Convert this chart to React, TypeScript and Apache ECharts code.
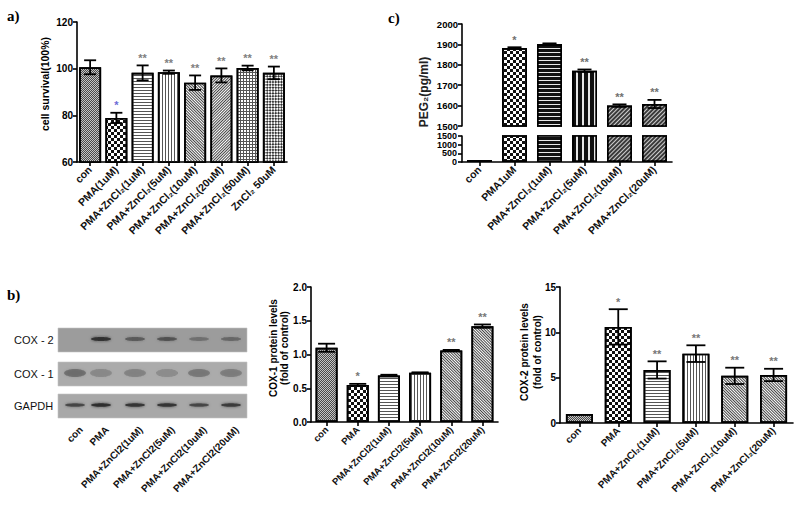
import React, { useEffect, useRef } from "react";
import * as echarts from "echarts";

// ---------- DATA ----------
const survivalCats = ["con", "PMA(1uM)", "PMA+ZnCl₂(1uM)", "PMA+ZnCl₂(5uM)", "PMA+ZnCl₂(10uM)", "PMA+ZnCl₂(20uM)", "PMA+ZnCl₂(50uM)", "ZnCl₂ 50uM"];
const survivalMean = [100.6, 78.9, 98.2, 98.5, 94.0, 97.1, 100.3, 98.2];
const survivalErr = [3.0, 2.2, 3.2, 0.7, 3.1, 3.0, 1.0, 2.7];
const survivalStars = ["", "*", "**", "**", "**", "**", "**", "**"];
const survivalTicks = [60, 80, 100, 120];

const pegCats = ["con", "PMA1uM", "PMA+ZnCl₂(1uM)", "PMA+ZnCl₂(5uM)", "PMA+ZnCl₂(10uM)", "PMA+ZnCl₂(20uM)"];
const pegMean = [110, 1882, 1902, 1771, 1600, 1608];
const pegErr = [0, 4, 3, 6, 6, 20];
const pegStars = ["", "*", "", "**", "**", "**"];
const pegUpperTicks = [1500, 1600, 1700, 1800, 1900, 2000];
const pegLowerTicks = [0, 500, 1000, 1500];

const cox1Cats = ["con", "PMA", "PMA+ZnCl2(1uM)", "PMA+ZnCl2(5uM)", "PMA+ZnCl2(10uM)", "PMA+ZnCl2(20uM)"];
const cox1Mean = [1.10, 0.55, 0.69, 0.73, 1.06, 1.42];
const cox1Err = [0.06, 0.015, 0.01, 0.006, 0.008, 0.025];
const cox1Stars = ["", "*", "", "", "**", "**"];
const cox1Ticks = [0, 0.5, 1.0, 1.5, 2.0];

const cox2Cats = ["con", "PMA", "PMA+ZnCl₂(1uM)", "PMA+ZnCl₂(5uM)", "PMA+ZnCl₂(10uM)", "PMA+ZnCl₂(20uM)"];
const cox2Mean = [1.0, 10.6, 5.85, 7.65, 5.2, 5.3];
const cox2Err = [0, 1.95, 0.95, 0.92, 0.9, 0.68];
const cox2Stars = ["", "*", "**", "**", "**", "**"];
const cox2Ticks = [0, 5, 10, 15];

const blotLanes = ["con", "PMA", "PMA+ZnCl2(1uM)", "PMA+ZnCl2(5uM)", "PMA+ZnCl2(10uM)", "PMA+ZnCl2(20uM)"];
const blotRows = ["COX - 2", "COX - 1", "GAPDH"];
const cox2Band = [0.0, 0.75, 0.45, 0.5, 0.3, 0.35];
const cox1Band = [0.35, 0.22, 0.25, 0.2, 0.3, 0.28];
const gapdhBand = [0.6, 0.8, 0.75, 0.75, 0.6, 0.7];

// ---------- STYLES ----------
const FONT = "Liberation Sans, Arial, sans-serif";
const SERIF = "Liberation Serif, Times New Roman, serif";

const pat = {
  dotsGray: { color: "#c4c4c4", decal: { symbol: "rect", symbolSize: 1, symbolKeepAspect: false, color: "#4a4a4a", dashArrayX: [[1, 1], [0, 1, 1, 0]], dashArrayY: [1, 0] } },
  checker: { color: "#ffffff", decal: { symbol: "rect", symbolSize: 1, symbolKeepAspect: false, color: "#111", dashArrayX: [[3, 3], [0, 3, 3, 0]], dashArrayY: [3, 0] } },
  hLines: { color: "#ffffff", decal: { symbol: "rect", symbolSize: 1, symbolKeepAspect: false, color: "#555", dashArrayX: [1, 0], dashArrayY: [1, 2] } },
  vLines: { color: "#ffffff", decal: { symbol: "rect", symbolSize: 1, symbolKeepAspect: false, color: "#555", dashArrayX: [1, 2], dashArrayY: [1, 0] } },
  diagA: { color: "#ffffff", decal: { symbol: "rect", symbolSize: 1, symbolKeepAspect: false, color: "#444", dashArrayX: [1, 0], dashArrayY: [1, 1], rotation: Math.PI / 4 } },
  diagB: { color: "#ffffff", decal: { symbol: "rect", symbolSize: 1, symbolKeepAspect: false, color: "#444", dashArrayX: [1, 0], dashArrayY: [1, 1], rotation: -Math.PI / 4 } },
  grid: { color: "#ffffff", decal: { symbol: "rect", symbolSize: 1, symbolKeepAspect: false, color: "#555", dashArrayX: [[3, 0], [1, 2]], dashArrayY: [1, 0, 2, 0] } },
  fineCross: { color: "#ffffff", decal: { symbol: "rect", symbolSize: 1, symbolKeepAspect: false, color: "#333", dashArrayX: [[2, 2], [0, 2, 2, 0]], dashArrayY: [2, 0], rotation: Math.PI / 4 } },
  heavyH: { color: "#111", decal: { symbol: "rect", symbolSize: 1, symbolKeepAspect: false, color: "#e8e8e8", dashArrayX: [1, 0], dashArrayY: [1, 3] } },
  heavyV: { color: "#111", decal: { symbol: "rect", symbolSize: 1, symbolKeepAspect: false, color: "#e8e8e8", dashArrayX: [2, 4], dashArrayY: [1, 0] } },
  darkDiag: { color: "#3a3a3a", decal: { symbol: "rect", symbolSize: 1, symbolKeepAspect: false, color: "#cfcfcf", dashArrayX: [1, 0], dashArrayY: [1, 2], rotation: -Math.PI / 4 } },
};

const survivalPats = [pat.dotsGray, pat.checker, pat.hLines, pat.vLines, pat.diagA, pat.diagB, pat.grid, pat.fineCross];
const pegPats = [pat.dotsGray, pat.checker, pat.heavyH, pat.heavyV, pat.darkDiag, pat.darkDiag];
const coxPats = [pat.dotsGray, pat.checker, pat.hLines, pat.vLines, pat.diagA, pat.diagA];

function yAxis(gridIndex: number, ticks: number[], fontSize: number, fmt?: (v: number) => string, showLabels = true) {
  return {
    type: "value",
    gridIndex,
    min: ticks[0],
    max: ticks[ticks.length - 1],
    interval: ticks[1] - ticks[0],
    axisLine: { show: true, lineStyle: { color: "#000", width: 1.6 } },
    axisTick: { show: true, length: 4, lineStyle: { color: "#000", width: 1.6 } },
    axisLabel: {
      show: showLabels,
      color: "#000", fontWeight: "bold", fontSize, fontFamily: FONT, margin: 4,
      showMinLabel: true, showMaxLabel: true, hideOverlap: false,
      formatter: fmt || ((v: number) => String(v)),
    },
    splitLine: { show: false },
  };
}

function xAxis(gridIndex: number, cats: string[], fontSize: number, show = true) {
  return {
    type: "category",
    gridIndex,
    data: cats,
    show,
    axisLine: { show: true, lineStyle: { color: "#000", width: 1.6 } },
    axisTick: { show: true, alignWithLabel: true, length: 4, lineStyle: { color: "#000", width: 1.6 } },
    axisLabel: { rotate: 45, interval: 0, color: "#111", fontWeight: "bold", fontSize, fontFamily: FONT, margin: 6 },
  };
}

function barSeries(idx: number, values: (number | string)[], pats: any[], barWidth: number) {
  return {
    type: "bar",
    xAxisIndex: idx,
    yAxisIndex: idx,
    barWidth,
    clip: true,
    data: values.map((v, i) => ({
      value: v,
      itemStyle: { color: pats[i].color, decal: pats[i].decal, borderColor: "#000", borderWidth: 1.7 },
    })),
  };
}

function errSeries(idx: number, mean: number[], err: number[], stars: string[], cap: number, starColor: (i: number) => string, minVal = -Infinity) {
  return {
    type: "custom",
    xAxisIndex: idx,
    yAxisIndex: idx,
    clip: false,
    z: 5,
    encode: { x: 0, y: [1, 2] },
    data: mean.map((m, i) => [i, m - err[i], m + err[i]]),
    renderItem: (params: any, api: any) => {
      const i = api.value(0);
      const lowV = api.value(1);
      const highV = api.value(2);
      if (mean[params.dataIndex] < minVal) return { type: "group", children: [] };
      const lo = api.coord([i, lowV]);
      const hi = api.coord([i, highV]);
      const children: any[] = [];
      const ls = { stroke: "#000", lineWidth: 1.8 };
      if (highV - lowV > 0) {
        children.push({ type: "line", shape: { x1: hi[0], y1: hi[1], x2: lo[0], y2: lo[1] }, style: ls });
        children.push({ type: "line", shape: { x1: hi[0] - cap / 2, y1: hi[1], x2: hi[0] + cap / 2, y2: hi[1] }, style: ls });
        children.push({ type: "line", shape: { x1: lo[0] - cap / 2, y1: lo[1], x2: lo[0] + cap / 2, y2: lo[1] }, style: ls });
      }
      const s = stars[params.dataIndex];
      if (s) {
        children.push({
          type: "text",
          style: { text: s, x: hi[0], y: hi[1] - 2, align: "center", verticalAlign: "bottom", fill: starColor(params.dataIndex), fontSize: 11, fontFamily: FONT, fontWeight: "bold" },
        });
      }
      return { type: "group", children };
    },
  };
}

// blot geometry
const laneX = [75, 101, 135, 167, 199, 231];
const stripRows = [
  { y: 328, h: 24, fill: "#9c9c9c", bands: cox2Band, rx: 10, ry: 2 },
  { y: 362, h: 24, fill: "#ababab", bands: cox1Band, rx: 11, ry: 4 },
  { y: 394, h: 24, fill: "#a8a8a8", bands: gapdhBand, rx: 10, ry: 1.8 },
];

function blotGraphics() {
  const els: any[] = [];
  stripRows.forEach((r, ri) => {
    els.push({ type: "rect", shape: { x: 58, y: r.y, width: 189, height: r.h }, style: { fill: r.fill, stroke: "#c4c4c4", lineWidth: 0.6 } });
    r.bands.forEach((a, li) => {
      if (a <= 0) return;
      els.push({
        type: "ellipse",
        shape: { cx: laneX[li], cy: r.y + r.h / 2 - 1, rx: r.rx, ry: r.ry },
        style: { fill: `rgba(30,30,30,${a})`, shadowBlur: 3, shadowColor: `rgba(30,30,30,${a})` },
      });
    });
    els.push({
      type: "text",
      x: 14,
      y: r.y + r.h / 2,
      style: { text: blotRows[ri], align: "left", verticalAlign: "middle", fill: "#111", fontSize: 11, fontFamily: FONT },
    });
  });
  blotLanes.forEach((l, li) => {
    els.push({
      type: "text",
      x: laneX[li] + 6,
      y: 428,
      rotation: Math.PI / 4,
      style: { text: l, align: "right", verticalAlign: "middle", fill: "#111", fontSize: 10, fontFamily: FONT, fontWeight: "bold" },
    });
  });
  return els;
}

export default function App() {
  const ref = useRef<HTMLDivElement>(null);
  useEffect(() => {
    if (!ref.current) return;
    const chart = echarts.init(ref.current, null, { renderer: "svg" });
    const upperMin = pegUpperTicks[0];
    const baseGraphic: any[] = [
      { type: "text", x: 7, y: 16, style: { text: "a)", align: "left", verticalAlign: "middle", fontSize: 15, fontWeight: "bold", fontFamily: SERIF, fill: "#000" } },
      { type: "text", x: 388, y: 18, style: { text: "c)", align: "left", verticalAlign: "middle", fontSize: 15, fontWeight: "bold", fontFamily: SERIF, fill: "#000" } },
      { type: "text", x: 7, y: 295, style: { text: "b)", align: "left", verticalAlign: "middle", fontSize: 15, fontWeight: "bold", fontFamily: SERIF, fill: "#000" } },
      { type: "text", x: 45, y: 84, rotation: Math.PI / 2, style: { text: "cell survival(100%)", align: "center", verticalAlign: "middle", fontSize: 10.5, fontWeight: "bold", fontFamily: FONT, fill: "#000" } },
      { type: "text", x: 424, y: 92, rotation: Math.PI / 2, style: { text: "PEG₂(pg/ml)", align: "center", verticalAlign: "middle", fontSize: 12, fontWeight: "bold", fontFamily: FONT, fill: "#222" } },
      { type: "text", x: 279, y: 348, rotation: Math.PI / 2, style: { text: "COX-1 protein levels\n(fold of control)", align: "center", verticalAlign: "middle", lineHeight: 11, fontSize: 10, fontWeight: "bold", fontFamily: FONT, fill: "#000" } },
      { type: "text", x: 531, y: 352, rotation: Math.PI / 2, style: { text: "COX-2 protein levels\n(fold of control)", align: "center", verticalAlign: "middle", lineHeight: 13, fontSize: 10, fontWeight: "bold", fontFamily: FONT, fill: "#000" } },
      ...blotGraphics(),
    ];
    const option: any = {
      animation: false,
      backgroundColor: "#ffffff",
      grid: [
        { left: 77, top: 22, width: 210, height: 140 },
        { left: 462, top: 24, width: 210, height: 102 },
        { left: 462, top: 136, width: 210, height: 26 },
        { left: 311, top: 287, width: 187, height: 135 },
        { left: 560, top: 287, width: 233, height: 136 },
      ],
      xAxis: [
        xAxis(0, survivalCats, 10.5),
        { ...xAxis(1, pegCats, 10.5), axisLabel: { show: false }, axisTick: { show: false }, axisLine: { show: false } },
        xAxis(2, pegCats, 10.5),
        xAxis(3, cox1Cats, 9.5),
        xAxis(4, cox2Cats, 10),
      ],
      yAxis: [
        yAxis(0, survivalTicks, 10),
        yAxis(1, pegUpperTicks, 9.5),
        yAxis(2, pegLowerTicks, 9, undefined, false),
        yAxis(3, cox1Ticks, 10, (v: number) => v.toFixed(1)),
        yAxis(4, cox2Ticks, 10),
      ],
      series: [
        barSeries(0, survivalMean, survivalPats, 22),
        errSeries(0, survivalMean, survivalErr, survivalStars, 12, (i) => (i === 1 ? "#6b6bd6" : "#808080")),
        barSeries(1, pegMean.map((v) => (v >= upperMin ? v : "-")), pegPats, 25),
        errSeries(1, pegMean, pegErr, pegStars, 14, () => "#707070", upperMin),
        barSeries(2, pegMean, pegPats, 25),
        barSeries(3, cox1Mean, coxPats, 22),
        errSeries(3, cox1Mean, cox1Err, cox1Stars, 17, () => "#777"),
        barSeries(4, cox2Mean, coxPats, 27),
        errSeries(4, cox2Mean, cox2Err, cox2Stars, 19, () => "#777"),
      ],
      graphic: baseGraphic,
    };
    chart.setOption(option);
    // crowded lower-segment tick labels of the broken axis, placed through the axis scale
    const axisX = chart.convertToPixel({ xAxisIndex: 2 }, 0) as number;
    const gridLeft = axisX - (axisX - 462);
    const lowerLabels = pegLowerTicks.map((v) => ({
      type: "text",
      x: gridLeft - 5,
      y: chart.convertToPixel({ yAxisIndex: 2 }, v) as number,
      style: { text: String(v), align: "right", verticalAlign: "middle", fontSize: 9, fontWeight: "bold", fontFamily: FONT, fill: "#000" },
    }));
    chart.setOption({ graphic: [...baseGraphic, ...lowerLabels] });
    return () => chart.dispose();
  }, []);
  return <div ref={ref} style={{ position: "absolute", left: 0, top: 0, width: 797, height: 509 }} />;
}
